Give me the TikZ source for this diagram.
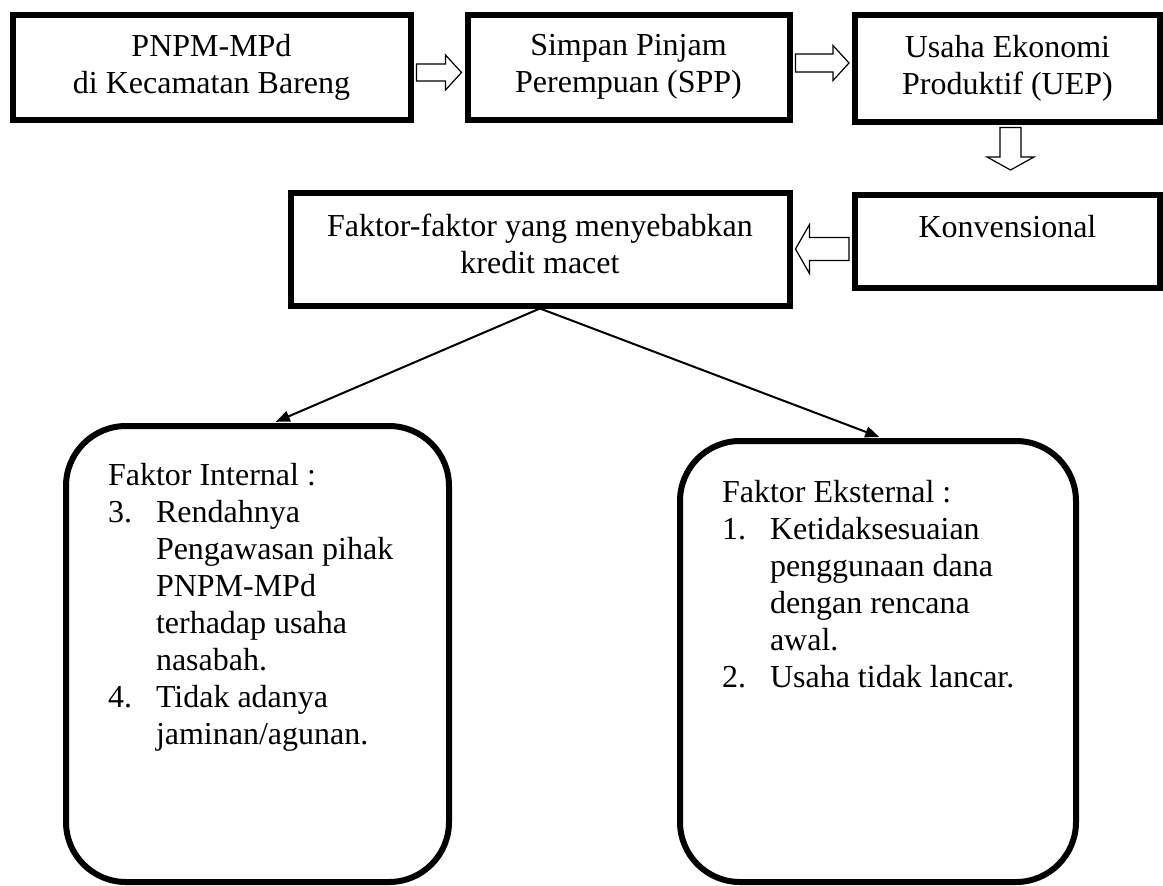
\documentclass[tikz,border=0pt]{standalone}
\usepackage{fontspec}
\setmainfont{Liberation Serif}
\usetikzlibrary{arrows.meta,calc}

\begin{document}
\begin{tikzpicture}[
  x=0.5pt, y=-0.5pt,
  box/.style={draw, line width=3pt, inner sep=0pt, align=center, font=\fontsize{16}{18.5}\selectfont},
  roundbox/.style={draw, line width=3pt, rounded corners=30pt, inner xsep=21pt, font=\fontsize{16}{18.5}\selectfont},
  blockarrow/.style={draw, fill=white, line width=0.6pt, line join=miter},
  link/.style={-{Triangle[length=7pt,width=5.5pt]}, line width=1pt, shorten >=1.5pt}
]
\useasboundingbox (0,0) rectangle (1163,885);

% Top row
\node[box, minimum width=199pt, minimum height=52.5pt] (pnpm) at (211.5,67) {PNPM-MPd\\di Kecamatan Bareng};
\node[box, minimum width=161pt, minimum height=52.5pt] (spp) at (628.5,67) {Simpan Pinjam\\Perempuan (SPP)};
\node[box, minimum width=152.5pt, minimum height=53.5pt] (uep) at (1007.5,68) {Usaha Ekonomi\\Produktif (UEP)};

% Second row
\node[box, minimum width=152.5pt, minimum height=46.5pt, text height=9pt, text depth=13pt] (konv) at (1007.5,241) {Konvensional};
\node[box, minimum width=249.5pt, minimum height=56.5pt, text depth=5pt] (faktor) at (540,249) {Faktor-faktor yang menyebabkan\\kredit macet};

% Factor boxes
\node[roundbox, inner ysep=16.5pt, minimum width=191.5pt, minimum height=228pt] (internal) at (257.5,654) {%
  \begin{minipage}[t][194.5pt][t]{149.5pt}
  \begin{tabular}[t]{@{}p{24pt}@{}l@{}}
  \multicolumn{2}{@{}l@{}}{Faktor Internal :}\\
  3. & Rendahnya\\
     & Pengawasan pihak\\
     & PNPM-MPd\\
     & terhadap usaha\\
     & nasabah.\\
  4. & Tidak adanya\\
     & jaminan/agunan.
  \end{tabular}
  \end{minipage}};
\node[roundbox, inner ysep=17.5pt, minimum width=198pt, minimum height=220.5pt] (eksternal) at (878,661.5) {%
  \begin{minipage}[t][185pt][t]{156pt}
  \begin{tabular}[t]{@{}p{24pt}@{}l@{}}
  \multicolumn{2}{@{}l@{}}{Faktor Eksternal :}\\
  1. & Ketidaksesuaian\\
     & penggunaan dana\\
     & dengan rencana\\
     & awal.\\
  2. & Usaha tidak lancar.
  \end{tabular}
  \end{minipage}};

% Block arrows
\coordinate (a1s) at ($(pnpm.east)+(3,5.5)$);
\coordinate (a1e) at ($(a1s -| spp.west)+(-3,0)$);
\draw[blockarrow] ($(a1s)+(0,-8.5)$) -- ($(a1e)+(-16,-8.5)$) -- ($(a1e)+(-16,-17.5)$) -- (a1e)
  -- ($(a1e)+(-16,17.5)$) -- ($(a1e)+(-16,8.5)$) -- ($(a1s)+(0,8.5)$) -- cycle;

\coordinate (a2s) at ($(spp.east)+(3,-4)$);
\coordinate (a2e) at ($(a2s -| uep.west)+(-3,0)$);
\draw[blockarrow] ($(a2s)+(0,-9)$) -- ($(a2e)+(-16,-9)$) -- ($(a2e)+(-16,-17.5)$) -- (a2e)
  -- ($(a2e)+(-16,17.5)$) -- ($(a2e)+(-16,9)$) -- ($(a2s)+(0,9)$) -- cycle;

\coordinate (a3s) at ($(uep.south)+(3,3)$);
\coordinate (a3e) at ($(a3s |- konv.north)+(0,-21.5)$);
\draw[blockarrow] ($(a3s)+(-10.5,0)$) -- ($(a3e)+(-10.5,-13)$) -- ($(a3e)+(-23.5,-13)$) -- (a3e)
  -- ($(a3e)+(23.5,-13)$) -- ($(a3e)+(10.5,-13)$) -- ($(a3s)+(10.5,0)$) -- cycle;

\coordinate (a4s) at ($(konv.west)+(-3,8)$);
\coordinate (a4e) at ($(a4s -| faktor.east)+(3,0)$);
\draw[blockarrow] ($(a4s)+(0,-11.5)$) -- ($(a4e)+(14,-11.5)$) -- ($(a4e)+(14,-24.5)$) -- (a4e)
  -- ($(a4e)+(14,24.5)$) -- ($(a4e)+(14,11.5)$) -- ($(a4s)+(0,11.5)$) -- cycle;

% Links to the factors
\draw[link] (faktor.south) -- ($(internal.north west)!0.54!(internal.north east)$);
\draw[link] (faktor.south) -- ($(eksternal.north west)!0.51!(eksternal.north east)$);

\end{tikzpicture}
\end{document}
